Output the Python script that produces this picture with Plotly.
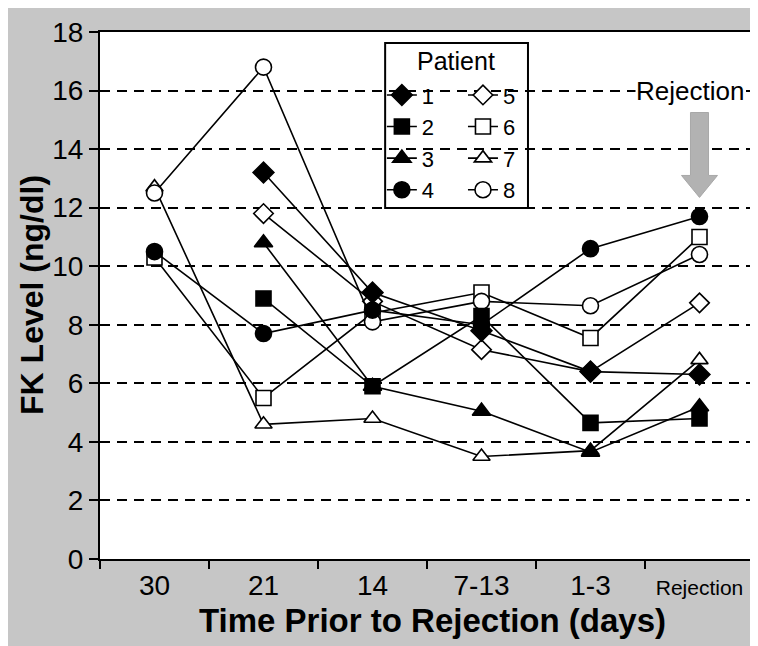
import plotly.graph_objects as go

categories = ["30", "21", "14", "7-13", "1-3", "Rejection"]
tick_text = ["30", "21", "14", "7-13", "1-3", "<span style='font-size:21px'>Rejection</span>"]
y_ticks = [0, 2, 4, 6, 8, 10, 12, 14, 16, 18]

p1 = [None, 13.2, 9.1, 7.8, 6.4, 6.3]
p2 = [None, 8.9, 5.9, 8.3, 4.65, 4.8]
p3 = [None, 10.8, 5.9, 5.05, 3.65, 5.2]
p4 = [10.5, 7.7, 8.5, 8.0, 10.6, 11.7]
p5 = [None, 11.8, 8.8, 7.15, 6.4, 8.75]
p6 = [10.3, 5.5, 8.4, 9.1, 7.55, 11.0]
p7 = [12.7, 4.6, 4.8, 3.5, 3.7, 6.8]
p8 = [12.5, 16.8, 8.1, 8.8, 8.65, 10.4]

FONT = "Liberation Sans, Arial, sans-serif"

series = [
    ("5", p5, "diamond-open", 15, "legend2"),
    ("6", p6, "square-open", 15, "legend2"),
    ("7", p7, "triangle-up-open", 15, "legend2"),
    ("8", p8, "circle-open", 16, "legend2"),
    ("1", p1, "diamond", 16, "legend"),
    ("2", p2, "square", 15, "legend"),
    ("3", p3, "triangle-up", 16, "legend"),
    ("4", p4, "circle", 16, "legend"),
]

fig = go.Figure()
for name, vals, sym, size, leg in series:
    open_ = sym.endswith("-open")
    fig.add_trace(go.Scatter(
        x=categories, y=vals, name=name, mode="lines+markers",
        line=dict(color="black", width=1.6),
        marker=dict(symbol=sym.replace("-open", ""), size=size,
                    color="white" if open_ else "black",
                    line=dict(color="black", width=1.6)),
        connectgaps=False, legend=leg,
    ))

# rejection arrow, anchored on the "Rejection" category
xc = (categories.index("Rejection") + 0.5) / len(categories)
sw, hw = 0.0138, 0.0275
arrow_path = (f"M {xc-sw},15.25 L {xc+sw},15.25 L {xc+sw},13.1 L {xc+hw},13.1 "
              f"L {xc},12.35 L {xc-hw},13.1 L {xc-sw},13.1 Z")

fig.update_layout(
    width=750, height=638,
    margin=dict(l=92, r=4, t=24, b=87),
    paper_bgcolor="#c6c6c6",
    plot_bgcolor="white",
    font=dict(family=FONT, color="black"),
    legend=dict(x=0.431, y=0.92, xanchor="left", yanchor="top",
                bgcolor="rgba(0,0,0,0)", font=dict(size=22), itemwidth=30,
                tracegroupgap=0),
    legend2=dict(x=0.555, y=0.92, xanchor="left", yanchor="top",
                 bgcolor="rgba(0,0,0,0)", font=dict(size=22), itemwidth=30,
                 tracegroupgap=0),
    xaxis=dict(
        type="category", categoryorder="array", categoryarray=categories,
        tickmode="array", tickvals=categories, ticktext=tick_text,
        range=[-0.5, 5.5], tickson="boundaries", automargin=False,
        ticks="outside", ticklen=8, tickwidth=2, tickcolor="black",
        showgrid=False, showline=True, linecolor="black", linewidth=2,
        mirror=True, tickfont=dict(size=28, family=FONT),
    ),
    yaxis=dict(
        range=[0, 18], tickmode="array", tickvals=y_ticks, automargin=False,
        ticks="outside", ticklen=9, tickwidth=2, tickcolor="black",
        showgrid=True, gridcolor="black", gridwidth=1.6, griddash="10px,7px",
        showline=True, linecolor="black", linewidth=2, mirror=True,
        zeroline=False, tickfont=dict(size=28, family=FONT),
    ),
    shapes=[
        dict(type="rect", xref="paper", yref="paper",
             x0=0.436, x1=0.6544, y0=0.666, y1=0.979,
             line=dict(color="black", width=2), fillcolor="white", layer="below"),
        dict(type="path", xref="paper", yref="y", path=arrow_path,
             fillcolor="#b2b2b2", line=dict(color="#a8a8a8", width=1)),
    ],
    annotations=[
        dict(text="<b>Time Prior to Rejection (days)</b>", xref="paper", yref="paper",
             x=0.508, y=-0.116, xanchor="center", yanchor="middle",
             showarrow=False, font=dict(size=33, family=FONT)),
        dict(text="<b>FK Level (ng/dl)</b>", xref="paper", yref="paper",
             x=-0.104, y=0.501, xanchor="center", yanchor="middle", textangle=-90,
             showarrow=False, font=dict(size=32, family=FONT)),
        dict(text="Patient", xref="paper", yref="paper", x=0.544, y=0.945,
             yanchor="middle", showarrow=False, font=dict(size=25, family=FONT)),
        dict(text="Rejection", x=5, y=16, xref="x", yref="y", showarrow=False,
             xshift=-10, bgcolor="white", font=dict(size=26, family=FONT),
             borderpad=0),
    ],
)

fig.write_html("out.html")
